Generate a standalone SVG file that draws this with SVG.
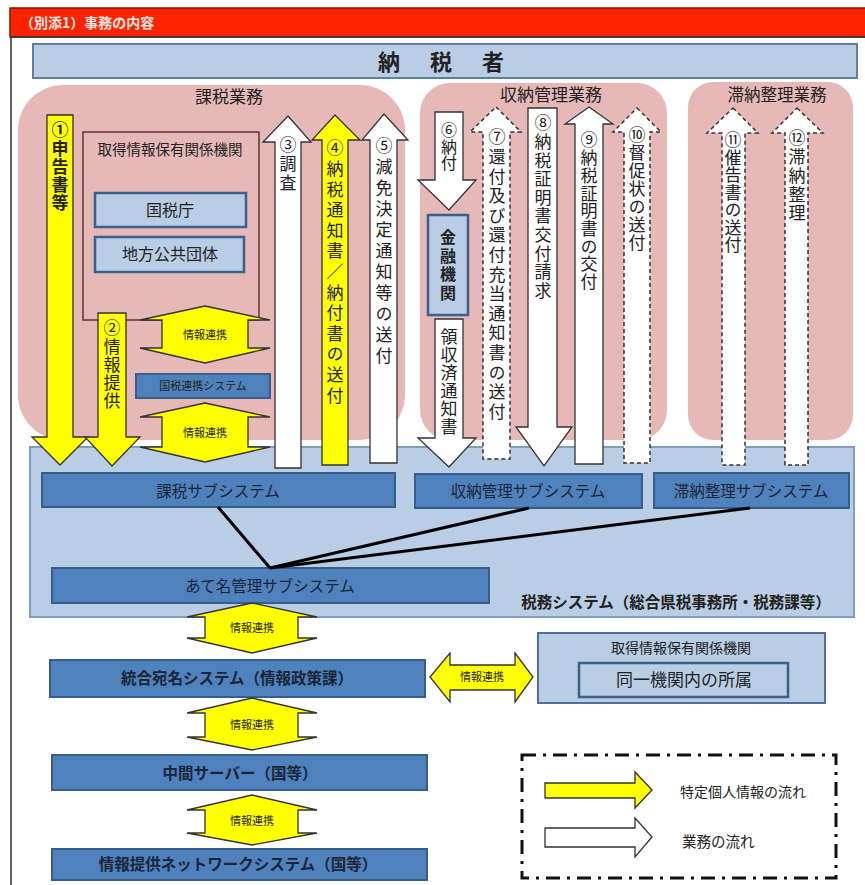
<svg xmlns="http://www.w3.org/2000/svg" width="865" height="885" viewBox="0 0 865 885">
<style>
text{font-family:"Noto Sans CJK JP","Noto Sans CJK SC",sans-serif;fill:#222;}
.pink{fill:#e6b9b8;stroke:none;}
.lt{fill:#b9cde5;stroke:#3c5f8c;stroke-width:2.5;}
.dk{fill:#4f81bd;stroke:#385d8a;stroke-width:2;}
.dkt{font-size:15.5px;text-anchor:middle;fill:#1a2638;}
.y{fill:#ffff00;stroke:#333;stroke-width:1.3;}
.w{fill:#fff;stroke:#333;stroke-width:1.3;}
.wd{fill:#fff;stroke:#333;stroke-width:1.5;stroke-dasharray:4,3;}
.v{font-size:17px;writing-mode:vertical-rl;}
.sm{font-size:11px;text-anchor:middle;}
.lbl{font-size:17px;text-anchor:middle;}
</style>
<rect x="0" y="0" width="865" height="885" fill="#fff"/>
<g id="header">
<rect x="10" y="8" width="862" height="29" fill="#ff2200" stroke="#7a1a00" stroke-width="1.5"/>
<text x="20" y="28" style="font-size:14px;font-weight:bold;fill:#ffe8e0;">（別添1）事務の内容</text>
</g>
<rect x="11" y="37" width="862" height="862" fill="none" stroke="#333" stroke-width="1.5"/>
<g id="taxpayer">
<rect x="33" y="44" width="824" height="34" fill="#b9cde5" stroke="#5f7ea3" stroke-width="2"/>
<text y="70" style="font-size:22px;font-weight:bold;text-anchor:middle;"><tspan x="389">納</tspan><tspan x="441">税</tspan><tspan x="493">者</tspan></text>
</g>
<g id="kazei-area">
<rect class="pink" x="18" y="85" width="387" height="355" rx="45"/>
<text class="lbl" x="229" y="103">課税業務</text>
</g>
<g id="shuno-area">
<rect class="pink" x="420" y="83" width="247" height="357" rx="30"/>
<text class="lbl" x="551" y="101">収納管理業務</text>
</g>
<g id="tainou-area">
<rect class="pink" x="688" y="82" width="165" height="358" rx="25"/>
<text class="lbl" x="777" y="101" style="font-size:16.5px">滞納整理業務</text>
</g>
<g id="zeimu-system">
<rect x="30" y="447" width="824" height="170" fill="#b9cde5" stroke="#7f9dc2" stroke-width="2"/>
<text x="676" y="608" style="font-size:15.5px;font-weight:bold;text-anchor:middle;">税務システム（総合県税事務所・税務課等）</text>
</g>
<g id="shutoku-box">
<rect x="83" y="132" width="176" height="188" fill="none" stroke="#5a3535" stroke-width="1.5"/>
<text x="170" y="155" style="font-size:14.5px;text-anchor:middle;">取得情報保有関係機関</text>
</g>
<g id="kokuzeicho">
<rect class="lt" x="95" y="193" width="151" height="34"/>
<text x="170" y="216" style="font-size:16px;text-anchor:middle;">国税庁</text>
</g>
<g id="chihou">
<rect class="lt" x="95" y="237" width="149" height="35"/>
<text x="170" y="260" style="font-size:16px;text-anchor:middle;">地方公共団体</text>
</g>
<g id="kokuzei-renkei">
<rect class="dk" x="136" y="374" width="134" height="24"/>
<text class="sm" x="203" y="390">国税連携システム</text>
</g>
<g id="kinyu">
<rect class="lt" x="428" y="215" width="40" height="100"/>
<text class="v" x="448" y="229" style="font-weight:bold;font-size:16px;letter-spacing:2.7px">金融機関</text>
</g>
<g id="kazei-sub">
<rect class="dk" x="42" y="473" width="353" height="34"/>
<text class="dkt" x="218" y="497">課税サブシステム</text>
</g>
<g id="shuno-sub">
<rect class="dk" x="415" y="474" width="227" height="34"/>
<text class="dkt" x="528" y="497">収納管理サブシステム</text>
</g>
<g id="tainou-sub">
<rect class="dk" x="654" y="473" width="195" height="35"/>
<text class="dkt" x="751" y="497">滞納整理サブシステム</text>
</g>
<g id="atena-sub">
<rect class="dk" x="52" y="568" width="437" height="35"/>
<text class="dkt" x="270" y="592">あて名管理サブシステム</text>
</g>
<g id="tougou-atena">
<rect class="dk" x="50" y="660" width="375" height="37"/>
<text class="dkt" x="237" y="684" style="font-weight:bold">統合宛名システム（情報政策課）</text>
</g>
<g id="chukan-server">
<rect class="dk" x="52" y="755" width="375" height="35"/>
<text class="dkt" x="240" y="779" style="font-weight:bold">中間サーバー（国等）</text>
</g>
<g id="network-system">
<rect class="dk" x="52" y="849" width="375" height="31"/>
<text class="dkt" x="238" y="870" style="font-weight:bold">情報提供ネットワークシステム（国等）</text>
</g>
<g id="shutoku-box2">
<rect x="538" y="633" width="287" height="70" fill="#b9cde5" stroke="#4f6f99" stroke-width="2"/>
<text x="681" y="653" style="font-size:14px;text-anchor:middle;">取得情報保有関係機関</text>
<rect class="lt" x="579" y="663" width="209" height="34"/>
<text x="684" y="686" style="font-size:17px;text-anchor:middle;">同一機関内の所属</text>
</g>
<g id="connectors">
<g stroke="#000" stroke-width="3" fill="none">
<line x1="218" y1="507" x2="270" y2="568"/>
<line x1="529" y1="508" x2="270" y2="568"/>
<line x1="750" y1="508" x2="270" y2="568"/>
</g>
<polygon class="y" points="47,115 73,115 73,437 88,437 60,465 32,437 47,437"/>
<polygon class="y" points="98,313 126,313 126,437 140,437 112,466 85,437 98,437"/>
<polygon class="w" points="288,116 311,142 301,142 301,468 275,468 275,142 263,142"/>
<polygon class="y" points="335,115 360,140 348,140 348,465 322,465 322,140 312,140"/>
<polygon class="w" points="384,114 408,140 397,140 397,463 370,463 370,140 362,140"/>
<polygon class="w" points="435,112 463,112 463,180 476,180 449,210 418,180 435,180"/>
<polygon class="w" points="435,319 463,319 463,438 476,438 449,467 418,438 435,438"/>
<polygon class="wd" points="496,107 521,132 510,132 510,459 483,459 483,132 470,132"/>
<polygon class="w" points="528,108 557,108 557,427 572,427 544,466 516,427 528,427"/>
<polygon class="w" points="589,107 613,124 603,124 603,464 575,464 575,124 565,124"/>
<polygon class="wd" points="637,108 661,132 650,132 650,463 624,463 624,132 613,132"/>
<polygon class="wd" points="733,108 758,133 745,133 745,465 722,465 722,133 707,133"/>
<polygon class="wd" points="797,108 823,133 808,133 808,465 785,465 785,133 772,133"/>
<polygon class="y" points="205,306 270,320 248,320 248,348 270,348 205,363 140,348 162,348 162,320 140,320"/>
<polygon class="y" points="205,403 270,417 248,417 248,447 270,447 205,462 140,447 162,447 162,417 140,417"/>
<polygon class="y" points="252,603 317,617 298,617 298,638 317,638 252,653 187,638 205,638 205,617 187,617"/>
<polygon class="y" points="252,698 317,713 298,713 298,737 317,737 252,750 187,737 205,737 205,713 187,713"/>
<polygon class="y" points="252,795 317,810 298,810 298,833 317,833 252,845 187,833 205,833 205,810 187,810"/>
<polygon class="y" points="430,677 450,653 450,665 515,665 515,653 533,677 515,702 515,690 450,690 450,702"/>
<text class="sm" x="205" y="339">情報連携</text>
<text class="sm" x="205" y="437">情報連携</text>
<text class="sm" x="252" y="632">情報連携</text>
<text class="sm" x="252" y="729">情報連携</text>
<text class="sm" x="252" y="825">情報連携</text>
<text class="sm" x="482" y="681">情報連携</text>
<text class="v" x="60" y="121.5" style="font-weight:bold;letter-spacing:1.25px">①申告書等</text>
<text class="v" x="112" y="319.5" style="letter-spacing:1.25px">②情報提供</text>
<text class="v" x="288" y="136.5" style="letter-spacing:2px">③調査</text>
<text class="v" x="335" y="139.5" style="letter-spacing:3.6px">④納税通知書／納付書の送付</text>
<text class="v" x="384" y="137.5" style="letter-spacing:4px">⑤減免決定通知等の送付</text>
<text class="v" x="449" y="122" style="font-size:16px;letter-spacing:0.5px">⑥納付</text>
<text class="v" x="449" y="328.5" style="letter-spacing:1px">領収済通知書</text>
<text class="v" x="497" y="128.5" style="letter-spacing:2.6px">⑦還付及び還付充当通知書の送付</text>
<text class="v" x="543" y="114.5" style="letter-spacing:1.6px">⑧納税証明書交付請求</text>
<text class="v" x="589" y="131.5" style="letter-spacing:0.7px">⑨納税証明書の交付</text>
<text class="v" x="637" y="126.5" style="letter-spacing:1px">⑩督促状の送付</text>
<text class="v" x="733" y="131.5" style="letter-spacing:0.5px">⑪催告書の送付</text>
<text class="v" x="797" y="129.5" style="letter-spacing:1.7px">⑫滞納整理</text>
</g>
<g id="legend">
<rect x="522" y="755" width="314" height="123" fill="none" stroke="#111" stroke-width="3" stroke-dasharray="14,7,3,7"/>
<polygon class="y" points="545,783 635,783 635,772 652,790 635,808 635,798 545,798"/>
<text x="680" y="797" style="font-size:14px;">特定個人情報の流れ</text>
<polygon class="w" points="545,828 635,828 635,818 652,837 635,857 635,847 545,847"/>
<text x="682" y="847" style="font-size:14.5px;">業務の流れ</text>
</g>
</svg>
